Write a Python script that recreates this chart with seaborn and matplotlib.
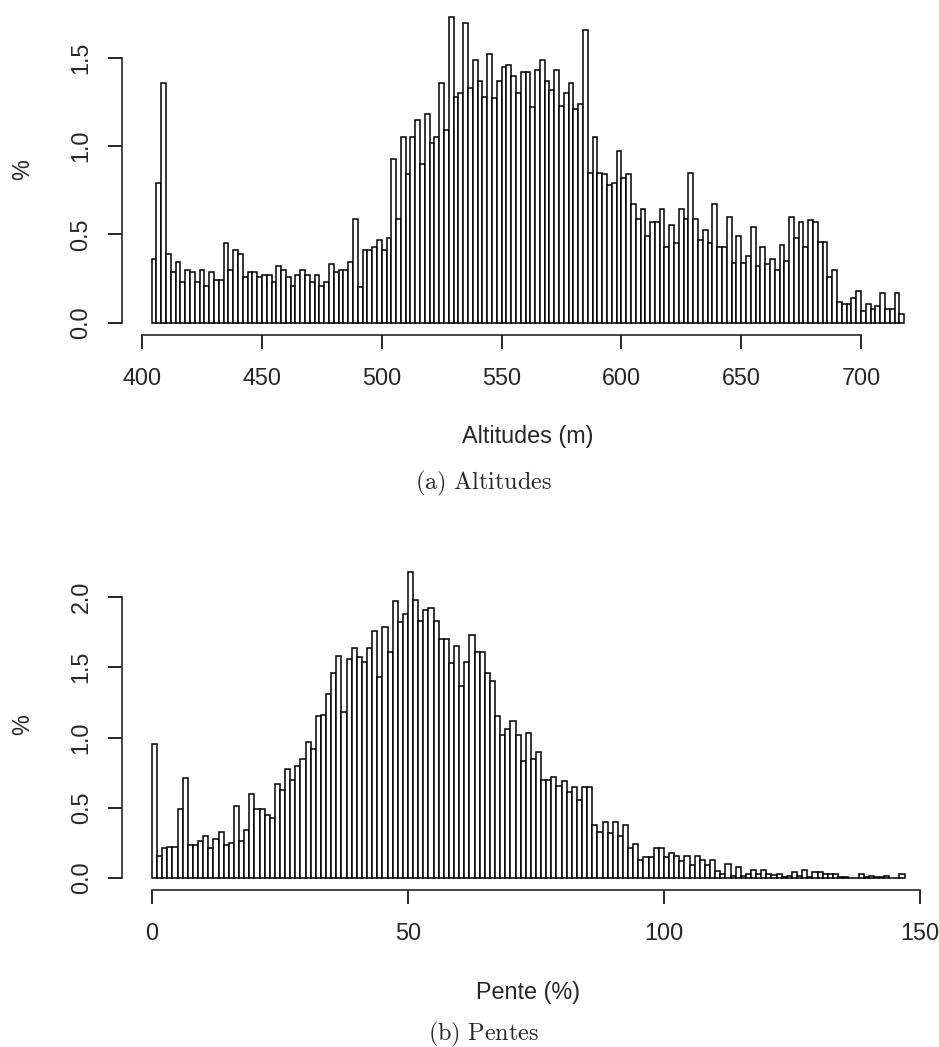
import numpy as np
import pandas as pd
import matplotlib
matplotlib.use("Agg")
import matplotlib.pyplot as plt
import seaborn as sns

# histogram heights (% of cells)
alt_start = 404      # first bin edge (m)
alt_step = 2         # bin width (m)
alt_pct = [0.36, 0.79, 1.36, 0.39, 0.29, 0.345, 0.23, 0.30, 0.29, 0.23,
           0.30, 0.21, 0.29, 0.24, 0.24, 0.45, 0.30, 0.41, 0.39, 0.26,
           0.29, 0.29, 0.26, 0.27, 0.27, 0.23, 0.32, 0.30, 0.26, 0.21,
           0.27, 0.30, 0.27, 0.23, 0.27, 0.21, 0.23, 0.33, 0.29, 0.30,
           0.30, 0.345, 0.585, 0.20, 0.41, 0.41, 0.43, 0.47, 0.41, 0.48,
           0.93, 0.585, 1.05, 0.84, 1.05, 1.15, 0.90, 1.18, 1.02, 1.05,
           1.36, 1.09, 1.73, 1.28, 1.30, 1.70, 1.33, 1.49, 1.37, 1.28,
           1.52, 1.27, 1.37, 1.45, 1.46, 1.40,
           1.30, 1.42, 1.42, 1.22, 1.43, 1.49, 1.37, 1.32, 1.43, 1.23, 1.30, 1.36, 1.21, 1.24,
           1.66, 0.85, 1.05, 0.85, 0.84, 0.78, 0.79, 0.97, 0.82, 0.84,
           0.675, 0.585, 0.645, 0.49, 0.57, 0.57, 0.645, 0.43, 0.555, 0.45,
           0.645, 0.585, 0.85, 0.585, 0.466, 0.525, 0.45, 0.675, 0.43, 0.43, 0.60,
           0.34, 0.49, 0.34, 0.38, 0.54, 0.32, 0.43, 0.33, 0.36, 0.30, 0.44, 0.35,
           0.60, 0.48, 0.57, 0.43, 0.58, 0.57, 0.46, 0.46, 0.26, 0.30,
           0.12, 0.107, 0.107, 0.14, 0.18, 0.064, 0.107, 0.08, 0.094, 0.17,
           0.08, 0.08, 0.17, 0.05]

pente_start = 0      # first bin edge (%)
pente_step = 1       # bin width (%)
pente_pct = [0.954, 0.16, 0.21, 0.22, 0.22, 0.49, 0.714, 0.235, 0.235, 0.266,
             0.297, 0.21, 0.28, 0.33, 0.235, 0.25, 0.51, 0.266, 0.34, 0.595,
             0.49, 0.49, 0.45, 0.43, 0.67, 0.626, 0.773, 0.70, 0.80, 0.85,
             0.97, 0.92, 1.15, 1.16, 1.31, 1.46, 1.58, 1.18, 1.56, 1.64,
             1.575, 1.535, 1.64, 1.76, 1.43, 1.79, 1.61, 1.97, 1.82, 1.88,
             2.18, 1.98, 1.83, 1.91, 1.92, 1.83, 1.70, 1.70, 1.53, 1.65,
             1.37, 1.535, 1.73, 1.61, 1.61, 1.46, 1.40, 1.15, 1.015, 1.06,
             1.12, 1.015, 0.83, 1.03, 0.85, 0.894, 0.70, 0.70, 0.72, 0.655,
             0.69, 0.61, 0.645, 0.555, 0.645, 0.645, 0.38, 0.33, 0.40, 0.32,
             0.40, 0.30, 0.38, 0.21, 0.24, 0.13, 0.15, 0.15, 0.21, 0.21,
             0.15, 0.18, 0.16, 0.12, 0.16, 0.09, 0.16, 0.13, 0.09, 0.13,
             0.05, 0.03, 0.10, 0.014, 0.076, 0.014, 0.026, 0.057, 0.026, 0.057,
             0.026, 0.021, 0.026, 0.01, 0.014, 0.045, 0.014, 0.057, 0.005, 0.045,
             0.045, 0.026, 0.026, 0.026, 0.005, 0.01, 0.003, 0.003, 0.026, 0.005,
             0.014, 0.005, 0.005, 0.014, 0.003, 0.003, 0.026]

alt_xticks = [400, 450, 500, 550, 600, 650, 700]
alt_yticks = [0.0, 0.5, 1.0, 1.5]
pente_xticks = [0, 50, 100, 150]
pente_yticks = [0.0, 0.5, 1.0, 1.5, 2.0]

sns.set_style("ticks")
plt.rcParams['font.family'] = ['Liberation Sans', 'DejaVu Sans']
plt.rcParams['mathtext.fontset'] = 'cm'

W, H = 939, 1047
FS = 16.8


def r_hist(ax, start, step, pct, xticks, yticks, xlabel):
    """R-style hist(): white bars with black outline, detached axes."""
    pct = np.asarray(pct, dtype=float)
    lo = start
    hi = start + step * len(pct)
    df = pd.DataFrame({"mid": lo + step * (np.arange(len(pct)) + 0.5), "pct": pct})
    sns.histplot(data=df, x="mid", weights="pct", binwidth=step, binrange=(lo, hi),
                 ax=ax, color="white", edgecolor="black", linewidth=1.1, alpha=1)

    ax.set_xlim(lo - 0.04 * (hi - lo), hi + 0.04 * (hi - lo))
    ymax = pct.max()
    ax.set_ylim(-0.04 * ymax, 1.04 * ymax)

    ax.spines[['top', 'right']].set_visible(False)
    ax.spines['left'].set_bounds(yticks[0], yticks[-1])
    ax.spines['bottom'].set_bounds(xticks[0], xticks[-1])
    for s in ('left', 'bottom'):
        ax.spines[s].set_linewidth(1.2)

    ax.set_xticks(xticks, labels=[str(t) for t in xticks])
    ax.set_yticks(yticks, labels=[f"{t:.1f}" for t in yticks])
    ax.tick_params(length=10, width=1.2, labelsize=FS, color="black")
    ax.tick_params(axis='x', pad=13)
    ax.tick_params(axis='y', pad=11)
    for lbl in ax.get_yticklabels():
        lbl.set_rotation(90)
        lbl.set_va('center')

    ax.set_xlabel(xlabel, fontsize=FS)
    ax.set_ylabel("%", fontsize=FS)
    h_px = ax.get_position().height * H
    w_px = ax.get_position().width * W
    ax.xaxis.set_label_coords(0.5, -102 / h_px)
    ax.xaxis.label.set_va('center')
    ax.yaxis.set_label_coords(-(ax.get_position().x0 * W - 23) / w_px, 0.5)
    ax.yaxis.label.set_va('center')


fig = plt.figure(figsize=(W / 100, H / 100), dpi=100)
ax1 = fig.add_axes([121.6 / W, 1 - 335 / H, 812.6 / W, 330 / H])
ax2 = fig.add_axes([121.9 / W, 1 - 890.25 / H, 812.8 / W, 330.75 / H])

r_hist(ax1, alt_start, alt_step, alt_pct, alt_xticks, alt_yticks, "Altitudes (m)")
r_hist(ax2, pente_start, pente_step, pente_pct, pente_xticks, pente_yticks, "Pente (%)")

# LaTeX-style sub-captions (Computer Modern)
fig.text(484 / W, 1 - 489 / H, r"$\mathrm{(a)\ Altitudes}$", ha='center', va='baseline', fontsize=17.5)
fig.text(484 / W, 1 - 1040 / H, r"$\mathrm{(b)\ Pentes}$", ha='center', va='baseline', fontsize=17.5)

fig.savefig("out.png", dpi=100)
